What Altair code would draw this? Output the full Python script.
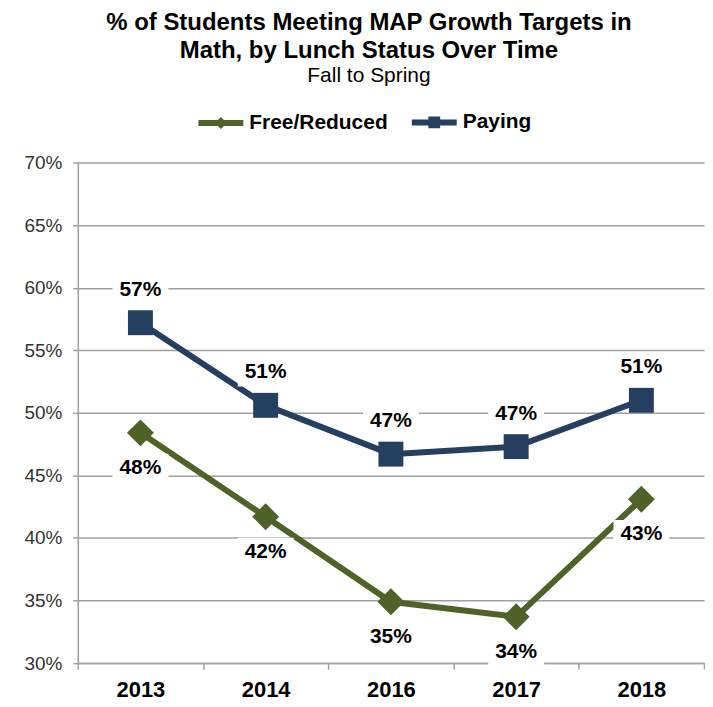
import altair as alt
import pandas as pd

# ---- data ----
years = ["2013", "2014", "2016", "2017", "2018"]
free_reduced = [0.484, 0.417, 0.349, 0.337, 0.431]
paying = [0.572, 0.506, 0.467, 0.473, 0.510]
series_names = ["Free/Reduced", "Paying"]
series_colors = ["#4F6228", "#243F60"]
y_ticks = [0.30, 0.35, 0.40, 0.45, 0.50, 0.55, 0.60, 0.65, 0.70]

rows = []
for yr, f, p in zip(years, free_reduced, paying):
    rows.append({"year": yr, "series": "Free/Reduced", "value": f})
    rows.append({"year": yr, "series": "Paying", "value": p})
df = pd.DataFrame(rows)

FONT = "Liberation Sans"
GRID = "#A0A0A0"
FREE_COLOR, PAY_COLOR = series_colors

x = alt.X(
    "year:N",
    sort=years,
    scale=alt.Scale(type="band", paddingInner=0, paddingOuter=0),
    axis=alt.Axis(
        title=None, labelAngle=0, tickBand="extent", grid=False,
        domainColor=GRID, domainWidth=1.5, tickColor=GRID, tickWidth=1.5, tickSize=6,
        labelFont=FONT, labelFontSize=22, labelFontWeight="bold", labelColor="#000000",
        labelPadding=10,
    ),
)
y = alt.Y(
    "value:Q",
    scale=alt.Scale(domain=[0.30, 0.70], nice=False, zero=False),
    axis=alt.Axis(
        title=None, format=".0%", values=y_ticks, grid=True,
        gridColor=GRID, gridWidth=1.5, domainColor=GRID, domainWidth=1.5,
        tickColor=GRID, tickWidth=1.5, tickSize=5,
        labelFont=FONT, labelFontSize=19, labelColor="#333333", labelPadding=11,
    ),
)

base = alt.Chart(df)
pay = base.transform_filter(alt.datum.series == "Paying")
free = base.transform_filter(alt.datum.series == "Free/Reduced")

pay_line = pay.mark_line(strokeWidth=6, color=PAY_COLOR).encode(x=x, y=y)
free_line = free.mark_line(strokeWidth=6, color=FREE_COLOR).encode(x=x, y=y)

squares = pay.mark_square(size=625, opacity=1, color=PAY_COLOR).encode(x=x, y=y)
diamonds = free.mark_point(
    shape="diamond", filled=True, size=729, opacity=1, color=FREE_COLOR
).encode(x=x, y=y)

BOX = "M-1,-0.5H1V0.5H-1Z"


def label_layers(sub, dy):
    box = sub.mark_point(
        shape=BOX, filled=True, color="white", opacity=1, size=3136, yOffset=dy
    ).encode(x=x, y=y)
    txt = sub.mark_text(
        font=FONT, fontSize=21, fontWeight="bold", color="#000000",
        baseline="middle", align="center", yOffset=dy,
    ).encode(x=x, y=y, text=alt.Text("value:Q", format=".0%"))
    return box, txt


pay_box, pay_txt = label_layers(pay, -33)
free_box, free_txt = label_layers(free, 35)

legend = alt.Legend(
    title=None, orient="none", legendX=118, legendY=-66, direction="horizontal",
    symbolSize=2025, symbolStrokeWidth=6, symbolOpacity=1,
    labelFont=FONT, labelFontSize=21, labelFontWeight="bold", labelColor="#000000",
    labelOffset=3, columnPadding=12,
)
legend_layer = (
    base.transform_filter("false")
    .mark_point(filled=False, strokeWidth=6)
    .encode(
        x=x, y=y,
        color=alt.Color(
            "series:N", scale=alt.Scale(domain=series_names, range=series_colors), legend=legend
        ),
        shape=alt.Shape(
            "series:N",
            scale=alt.Scale(
                domain=series_names,
                range=[
                    "M-1,0H1M-0.08,0L0,-0.08L0.08,0L0,0.08Z",
                    "M-1,0H1M-0.13,-0.13H0.13V0.13H-0.13Z",
                ],
            ),
            legend=legend,
        ),
    )
)

chart = (
    alt.layer(
        free_line, pay_line, squares, diamonds,
        pay_box, free_box, pay_txt, free_txt, legend_layer,
    )
    .properties(
        width=628,
        height=502,
        padding={"left": 15, "top": 2, "right": 0, "bottom": 0},
        title=alt.Title(
            text=["% of Students Meeting MAP Growth Targets in", "Math, by Lunch Status Over Time"],
            subtitle="Fall to Spring",
            font=FONT, fontSize=24, fontWeight="bold", color="#000000", lineHeight=28,
            subtitleFont=FONT, subtitleFontSize=21, subtitleColor="#000000",
            subtitlePadding=2, anchor="middle", dx=-22, offset=11,
        ),
    )
    .configure_view(stroke=None)
)

chart.save("out.html", embed_options={"renderer": "svg", "actions": False})
